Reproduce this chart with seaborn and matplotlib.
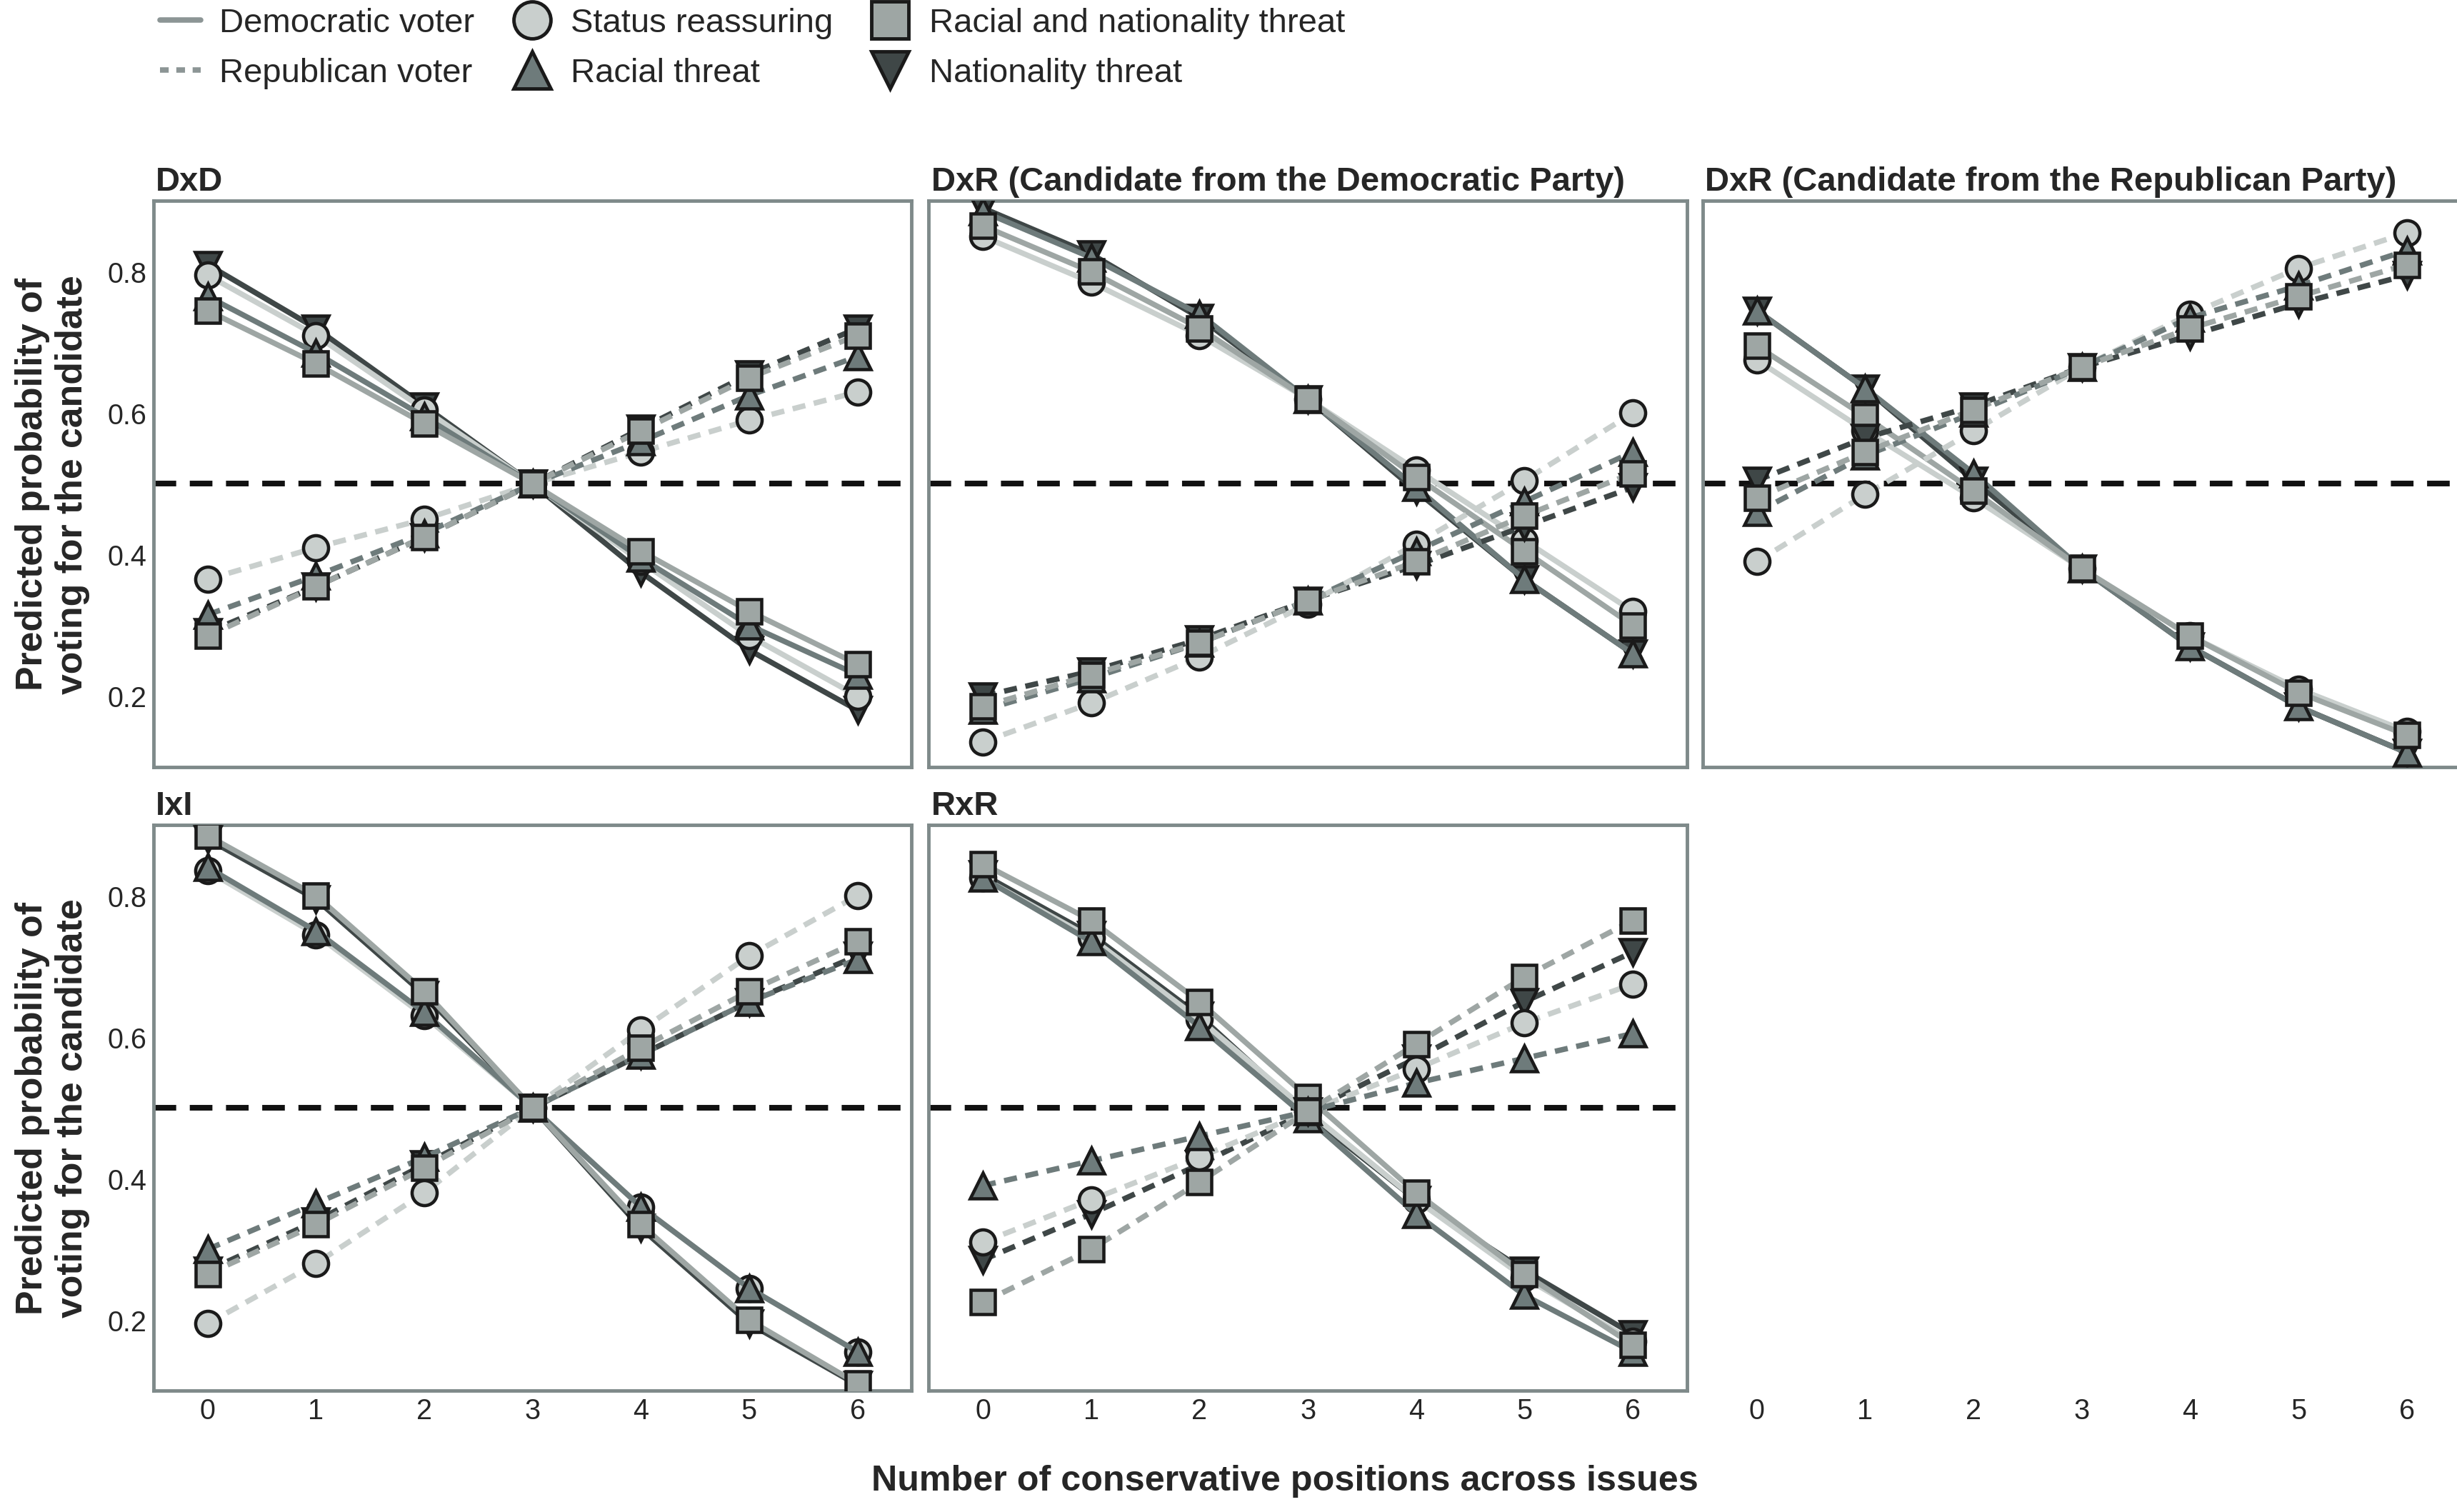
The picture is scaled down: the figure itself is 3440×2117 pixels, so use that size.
import numpy as np
import pandas as pd
import matplotlib
matplotlib.use("Agg")
import matplotlib.pyplot as plt
from matplotlib.lines import Line2D
import seaborn as sns

sns.set_style("white")
plt.rcParams['font.family'] = ['Liberation Sans', 'DejaVu Sans']

positions = [0, 1, 2, 3, 4, 5, 6]
panels = ["DxD", "DxR (Candidate from the Democratic Party)",
          "DxR (Candidate from the Republican Party)", "IxI", "RxR"]
frames = ["Nationality threat", "Status reassuring", "Racial threat",
          "Racial and nationality threat"]
voters = ["Democratic voter", "Republican voter"]

# predicted probabilities, per panel -> voter -> frame
dxd_dem = {
    "Status reassuring":             [0.795, 0.710, 0.605, 0.50, 0.390, 0.285, 0.200],
    "Racial threat":                 [0.765, 0.685, 0.595, 0.50, 0.395, 0.300, 0.230],
    "Racial and nationality threat": [0.745, 0.670, 0.585, 0.50, 0.405, 0.320, 0.245],
    "Nationality threat":            [0.810, 0.720, 0.610, 0.50, 0.375, 0.265, 0.180],
}
dxd_rep = {
    "Status reassuring":             [0.365, 0.410, 0.450, 0.50, 0.545, 0.590, 0.630],
    "Racial threat":                 [0.315, 0.370, 0.430, 0.50, 0.560, 0.625, 0.680],
    "Racial and nationality threat": [0.285, 0.355, 0.425, 0.50, 0.575, 0.650, 0.710],
    "Nationality threat":            [0.290, 0.355, 0.425, 0.50, 0.578, 0.655, 0.720],
}
dxr_d_dem = {
    "Status reassuring":             [0.850, 0.785, 0.710, 0.620, 0.520, 0.420, 0.320],
    "Racial threat":                 [0.885, 0.820, 0.740, 0.620, 0.495, 0.365, 0.260],
    "Racial and nationality threat": [0.865, 0.800, 0.720, 0.620, 0.510, 0.405, 0.300],
    "Nationality threat":            [0.890, 0.825, 0.735, 0.620, 0.490, 0.365, 0.260],
}
dxr_d_rep = {
    "Status reassuring":             [0.135, 0.190, 0.255, 0.330, 0.415, 0.505, 0.600],
    "Racial threat":                 [0.180, 0.225, 0.275, 0.335, 0.405, 0.475, 0.545],
    "Racial and nationality threat": [0.185, 0.230, 0.275, 0.335, 0.390, 0.455, 0.515],
    "Nationality threat":            [0.200, 0.235, 0.280, 0.335, 0.385, 0.440, 0.495],
}
dxr_r_dem = {
    "Status reassuring":             [0.675, 0.575, 0.480, 0.380, 0.285, 0.210, 0.150],
    "Racial threat":                 [0.745, 0.635, 0.515, 0.380, 0.270, 0.185, 0.120],
    "Racial and nationality threat": [0.695, 0.595, 0.490, 0.380, 0.285, 0.205, 0.145],
    "Nationality threat":            [0.745, 0.635, 0.505, 0.380, 0.270, 0.185, 0.120],
}
dxr_r_rep = {
    "Status reassuring":             [0.390, 0.485, 0.575, 0.665, 0.740, 0.805, 0.855],
    "Racial threat":                 [0.460, 0.540, 0.600, 0.665, 0.735, 0.780, 0.830],
    "Racial and nationality threat": [0.480, 0.545, 0.605, 0.665, 0.720, 0.765, 0.810],
    "Nationality threat":            [0.505, 0.565, 0.610, 0.665, 0.710, 0.755, 0.795],
}
ixi_dem = {
    "Status reassuring":             [0.835, 0.745, 0.630, 0.50, 0.360, 0.245, 0.155],
    "Racial threat":                 [0.840, 0.750, 0.635, 0.50, 0.360, 0.245, 0.155],
    "Racial and nationality threat": [0.885, 0.800, 0.665, 0.50, 0.335, 0.200, 0.110],
    "Nationality threat":            [0.880, 0.795, 0.660, 0.50, 0.330, 0.195, 0.108],
}
ixi_rep = {
    "Status reassuring":             [0.195, 0.280, 0.380, 0.50, 0.610, 0.715, 0.800],
    "Racial threat":                 [0.300, 0.365, 0.430, 0.50, 0.575, 0.650, 0.710],
    "Racial and nationality threat": [0.265, 0.335, 0.415, 0.50, 0.585, 0.665, 0.735],
    "Nationality threat":            [0.270, 0.340, 0.420, 0.50, 0.575, 0.650, 0.715],
}
rxr_dem = {
    "Status reassuring":             [0.825, 0.740, 0.625, 0.495, 0.370, 0.260, 0.170],
    "Racial threat":                 [0.825, 0.735, 0.615, 0.485, 0.350, 0.235, 0.155],
    "Racial and nationality threat": [0.845, 0.765, 0.650, 0.515, 0.380, 0.265, 0.165],
    "Nationality threat":            [0.830, 0.745, 0.630, 0.490, 0.370, 0.270, 0.180],
}
rxr_rep = {
    "Status reassuring":             [0.310, 0.370, 0.430, 0.495, 0.555, 0.620, 0.675],
    "Racial threat":                 [0.390, 0.425, 0.460, 0.495, 0.535, 0.570, 0.605],
    "Racial and nationality threat": [0.225, 0.300, 0.395, 0.495, 0.590, 0.685, 0.765],
    "Nationality threat":            [0.285, 0.350, 0.420, 0.495, 0.570, 0.650, 0.720],
}
panel_data = [(dxd_dem, dxd_rep), (dxr_d_dem, dxr_d_rep), (dxr_r_dem, dxr_r_rep),
              (ixi_dem, ixi_rep), (rxr_dem, rxr_rep)]

rows = []
for pname, (dem, rep) in zip(panels, panel_data):
    for voter, d in zip(voters, [dem, rep]):
        for fr in frames:
            for x, p in zip(positions, d[fr]):
                rows.append({"panel": pname, "voter": voter, "frame": fr, "x": x, "p": p})
df = pd.DataFrame(rows)

colors = {"Status reassuring": "#c9cfcd", "Racial threat": "#6e7b7b",
          "Racial and nationality threat": "#9ea6a4", "Nationality threat": "#3f4747"}
markers = {"Status reassuring": "o", "Racial threat": "^",
           "Racial and nationality threat": "s", "Nationality threat": "v"}
styles = {"Democratic voter": "-", "Republican voter": (0, (2.4, 1.6))}
spine_col = "#7f8a8a"

fig = plt.figure(figsize=(15.68, 9.653), dpi=219.4)
W = 0.3085
lefts = [0.0625, 0.378, 0.693]
bottoms = [0.4927, 0.0802]
H = 0.374

axes = []
for i, pname in enumerate(panels):
    r, c = divmod(i, 3)
    ax = fig.add_axes([lefts[c], bottoms[r], W, H])
    ax.axhline(0.5, color="#111111", lw=2.6, ls=(0, (4.0, 2.4)), zorder=1)
    sub = df[df.panel == pname]
    for voter in voters:
        for fr in frames:
            s = sub[(sub.voter == voter) & (sub.frame == fr)]
            sns.lineplot(data=s, x="x", y="p", ax=ax, color=colors[fr],
                         linestyle=styles[voter], lw=2.5, marker=markers[fr],
                         markersize=11.5 if fr != "Racial and nationality threat" else 11,
                         markerfacecolor=colors[fr], markeredgecolor="#1a1a1a",
                         markeredgewidth=1.5, legend=False, zorder=3)
    ax.set_xlim(-0.5, 6.5)
    ax.set_ylim(0.1, 0.9)
    ax.set_xticks(positions)
    ax.set_yticks([0.2, 0.4, 0.6, 0.8])
    ax.set_xlabel("")
    ax.set_ylabel("")
    ax.tick_params(length=0, labelsize=13, pad=3)
    for sp in ax.spines.values():
        sp.set_color(spine_col)
        sp.set_linewidth(1.6)
    if r == 0:
        ax.set_xticklabels([])
    if c != 0:
        ax.set_yticklabels([])
    else:
        ax.set_ylabel("Predicted probability of\nvoting for the candidate",
                      fontsize=17, fontweight="bold", labelpad=8)
    ax.set_title(pname, loc="left", fontsize=15.5, fontweight="bold", pad=5, x=0.003)
    axes.append(ax)

# tick labels under the empty slot
ax_e = fig.add_axes([lefts[2], bottoms[1], W, H])
ax_e.set_xlim(-0.5, 6.5)
ax_e.set_xticks(positions)
ax_e.set_yticks([])
ax_e.tick_params(length=0, labelsize=13, pad=3)
for sp in ax_e.spines.values():
    sp.set_visible(False)
ax_e.patch.set_alpha(0)

fig.text(0.523, 0.010, "Number of conservative positions across issues",
         ha="center", va="bottom", fontsize=16.5, fontweight="bold")

legend_col = "#8c9595"
handles = [
    Line2D([0], [0], color=legend_col, lw=2.5, ls="-"),
    Line2D([0], [0], color=legend_col, lw=2.5, ls=(0, (1.6, 1.4))),
]
labels = list(voters)
for fr in ["Status reassuring", "Racial threat", "Racial and nationality threat",
           "Nationality threat"]:
    handles.append(Line2D([0], [0], ls="none", marker=markers[fr], markersize=17,
                          markerfacecolor=colors[fr], markeredgecolor="#1a1a1a",
                          markeredgewidth=1.6))
    labels.append(fr)
fig.legend(handles, labels, ncol=3, loc="upper left", bbox_to_anchor=(0.057, 1.008),
           frameon=False, fontsize=15.5, handlelength=1.2, handletextpad=0.55,
           columnspacing=1.1, labelspacing=0.55, borderaxespad=0.2)

fig.savefig("out.png", dpi=219.4)
